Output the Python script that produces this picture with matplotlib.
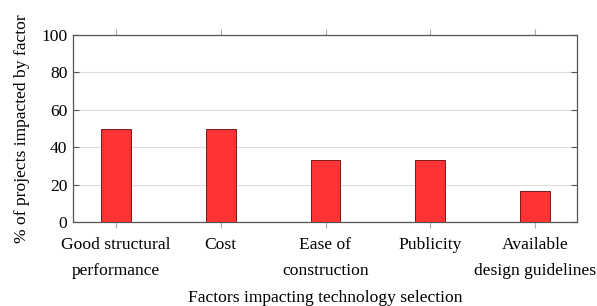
import matplotlib
matplotlib.use("Agg")
import matplotlib.pyplot as plt

categories = ["Good structural\nperformance", "Cost", "Ease of\nconstruction", "Publicity", "Available\ndesign guidelines"]
values = [50, 50, 33.3, 33.3, 16.7]

plt.rcParams['font.family'] = ['Liberation Serif', 'DejaVu Serif']

fig = plt.figure(figsize=(5.97, 3.06), dpi=100)
ax = fig.add_axes([73/597, 1-222/306, (577-73)/597, (222-35)/306])

x = list(range(len(categories)))
ax.bar(x, values, width=0.285, color='#ff3333', edgecolor='#7a1a1a', linewidth=0.7, zorder=3)

ax.set_xlim(-0.41, 4.4)
ax.set_ylim(0, 100)
ax.set_yticks([0, 20, 40, 60, 80, 100])
ax.set_xticks(x)
ax.set_xticklabels(categories, fontsize=12.6, linespacing=1.8)
ax.tick_params(axis='y', labelsize=12.6, direction='in', length=4, color='#555555', right=True, pad=4)
ax.tick_params(axis='x', direction='out', length=4, color='#aaaaaa', top=True, pad=7)
ax.grid(axis='y', color='#dddddd', linewidth=0.8, zorder=0)
for s in ax.spines.values():
    s.set_color('#555555')
    s.set_linewidth(0.9)

ax.set_ylabel("% of projects impacted by factor", fontsize=12.6, labelpad=8)
ax.set_xlabel("Factors impacting technology selection", fontsize=12.6, labelpad=8)

fig.savefig("out.png", dpi=100)
